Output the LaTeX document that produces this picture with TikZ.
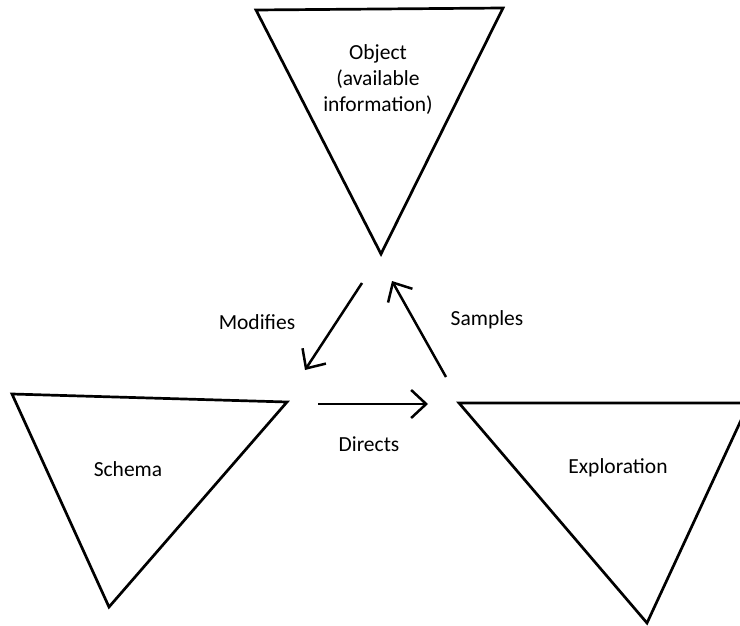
\documentclass[tikz,border=0pt]{standalone}
\usepackage{fontspec}
\setmainfont{Carlito}
\usetikzlibrary{arrows.meta}

\tikzset{
  tri/.style={line width=2.7pt, line join=miter},
  flow/.style={line width=2.5pt, -{Straight Barb[length=15pt, width=28pt]}},
  lbl/.style={font=\fontsize{21.5}{26}\selectfont, align=center, inner sep=0pt}
}

\begin{document}
\begin{tikzpicture}[x=1pt, y=-1pt]
\useasboundingbox (0,0) rectangle (740,626);
\clip (0,0) rectangle (740,626);
% object triangle
\coordinate (O_a) at (256,10);
\coordinate (O_b) at (503,8);
\coordinate (O_c) at (381,254);
\draw[tri] (O_a) -- (O_b) -- (O_c) -- cycle;
\node[lbl] (Obj) at (378,80) {Object\\(available\\information)};
% schema triangle
\coordinate (S_a) at (12,394);
\coordinate (S_b) at (287,402);
\coordinate (S_c) at (109,607);
\draw[tri] (S_a) -- (S_b) -- (S_c) -- cycle;
\node[lbl] (Sch) at (128,469) {Schema};
% exploration triangle
\coordinate (E_a) at (459,403);
\coordinate (E_b) at (749,403);
\coordinate (E_c) at (647,623);
\draw[tri] (E_a) -- (E_b) -- (E_c) -- cycle;
\node[lbl] (Exp) at (618,468) {Exploration};
% arrows
\coordinate (Mod_s) at (362,283);
\coordinate (Mod_e) at (305,370);
\draw[flow] (Mod_s) -- (Mod_e);
\node[lbl] (Mod) at (257,322) {Modifies};
\coordinate (Smp_s) at (446,377);
\coordinate (Smp_e) at (392,281);
\draw[flow] (Smp_s) -- (Smp_e);
\node[lbl] (Smp) at (487,320) {Samples};
\coordinate (Dir_s) at (318,404);
\coordinate (Dir_e) at (428,404);
\draw[flow] (Dir_s) -- (Dir_e);
\node[lbl] (Dir) at (369,444) {Directs};
\end{tikzpicture}
\end{document}
